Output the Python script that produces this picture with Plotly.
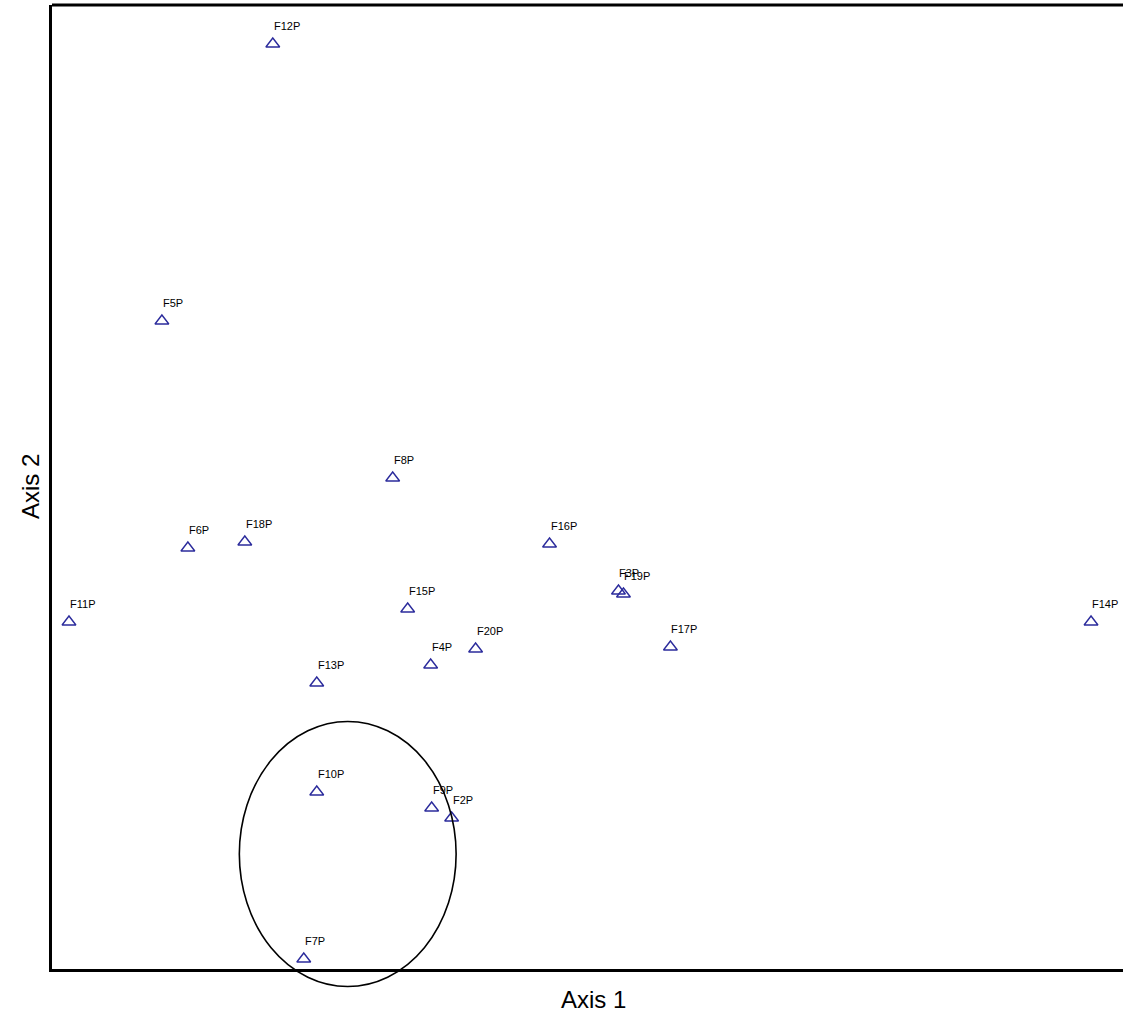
import plotly.graph_objects as go

labels = ["F2P", "F3P", "F4P", "F5P", "F6P", "F7P", "F8P", "F9P", "F10P", "F11P",
          "F12P", "F13P", "F14P", "F15P", "F16P", "F17P", "F18P", "F19P", "F20P"]
axis1 = [400, 567, 379, 110, 136, 252, 341, 380, 265, 17,
         221, 265, 1040, 356, 498, 619, 193, 572, 424]
axis2 = [151, 378, 304, 648, 421, 10, 491, 161, 177, 347,
         925, 286, 347, 360, 425, 322, 427, 375, 320]

x_range = [0, 1072]
y_range = [0, 964]

# highlighted group ellipse (data units)
ell_cx, ell_cy, ell_rx, ell_ry = 296, 115, 108.5, 132.5

fig = go.Figure()
fig.add_trace(go.Scatter(
    x=axis1, y=axis2, mode="markers",
    marker=dict(symbol="triangle-up-open", size=12, color="#2b2b9c",
                line=dict(width=1.4, color="#2b2b9c")),
    cliponaxis=False, hoverinfo="text", text=labels, showlegend=False,
))

for lab, xv, yv in zip(labels, axis1, axis2):
    fig.add_annotation(x=xv, y=yv, text=lab, showarrow=False,
                       xanchor="left", yanchor="bottom", xshift=-1, yshift=10,
                       font=dict(family="Liberation Sans, Arial", size=11, color="black"))

def to_px(v, r):
    return (v - r[0]) / (r[1] - r[0])

fig.add_shape(type="circle", xref="paper", yref="paper",
              x0=to_px(ell_cx - ell_rx, x_range), x1=to_px(ell_cx + ell_rx, x_range),
              y0=to_px(ell_cy - ell_ry, y_range), y1=to_px(ell_cy + ell_ry, y_range),
              line=dict(color="black", width=1.6))

# top frame line
fig.add_shape(type="line", xref="paper", yref="paper", x0=0, x1=1, y0=1, y1=1,
              line=dict(color="black", width=3))

fig.add_annotation(text="Axis 1", xref="paper", yref="paper", x=(593 - 52) / 1071, y=-0.032,
                   xanchor="center", yanchor="middle", showarrow=False,
                   font=dict(family="Liberation Sans, Arial", size=24, color="black"))
fig.add_annotation(text="Axis 2", xref="paper", yref="paper", x=-0.0205, y=0.5,
                   xanchor="center", yanchor="middle", textangle=-90, showarrow=False,
                   font=dict(family="Liberation Sans, Arial", size=24, color="black"))

fig.update_xaxes(range=x_range, showgrid=False, zeroline=False, showticklabels=False,
                 ticks="", showline=True, linecolor="black", linewidth=3)
fig.update_yaxes(range=y_range, showgrid=False, zeroline=False, showticklabels=False,
                 ticks="", showline=True, linecolor="black", linewidth=3)

fig.update_layout(width=1123, height=1014, margin=dict(l=52, r=0, t=5, b=45),
                  plot_bgcolor="white", paper_bgcolor="white")

fig.write_html("out.html")
